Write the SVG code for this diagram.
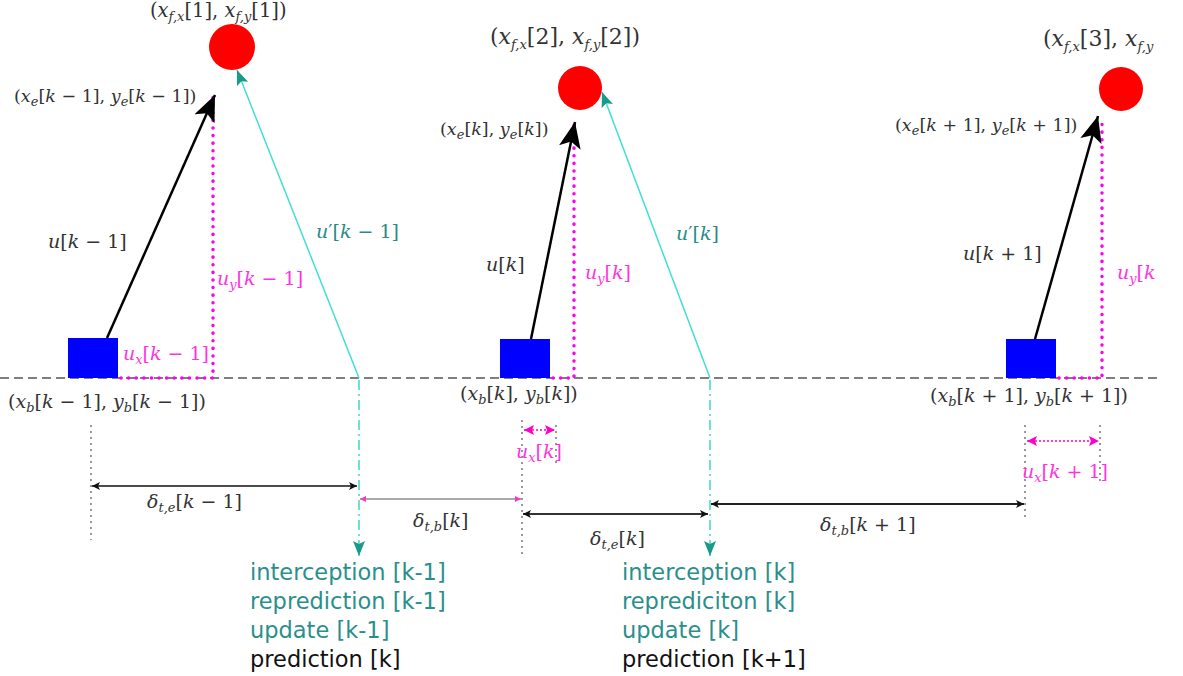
<svg xmlns="http://www.w3.org/2000/svg" width="1183" height="676" viewBox="0 0 1183 676">
<style>
.m{font-family:"DejaVu Serif","Liberation Serif",serif;font-size:19px;fill:#333}
.t{font-size:17.5px}
.h{font-size:22px}
.h1{font-size:19.5px}
.i{font-style:italic}
.s{font-size:13px;font-style:italic}
.mg{fill:#ff33dd}
.tl{fill:#2a8a88}
.b{font-family:"DejaVu Sans","Noto Sans",sans-serif;font-size:22.5px}
.base{stroke:#555;stroke-width:1.5;stroke-dasharray:9,5;fill:none}
.mdot{stroke:#ff00ee;stroke-width:3.5;stroke-dasharray:0.1,7.5;fill:none;stroke-linecap:round}
.gdot{stroke:#555;stroke-width:1.2;stroke-dasharray:2,4;fill:none}
.cy{stroke:#40e0d0;stroke-width:1.5;fill:none}
.cyd{stroke:#40d8c4;stroke-width:1.5;stroke-dasharray:10,4,2,4;fill:none}
</style>
<defs>
<marker id="ab" markerUnits="userSpaceOnUse" markerWidth="30" markerHeight="24" refX="26" refY="11" orient="auto"><path d="M0,0 L26,11 L0,22 L6,11 z" fill="#000"/></marker>
<marker id="at" markerUnits="userSpaceOnUse" markerWidth="18" markerHeight="14" refX="15" refY="6" orient="auto"><path d="M0,0 L15,6 L0,12 L3,6 z" fill="#1a9a8a"/></marker>
<marker id="ak" markerUnits="userSpaceOnUse" markerWidth="10" markerHeight="10" refX="8" refY="4" orient="auto-start-reverse"><path d="M0,0 L8,4 L0,8 L2,4 z" fill="#111"/></marker>
<marker id="am" markerUnits="userSpaceOnUse" markerWidth="12" markerHeight="12" refX="10" refY="5" orient="auto-start-reverse"><path d="M0,0 L10,5 L0,10 L2,5 z" fill="#ff00cc"/></marker>
<marker id="am2" markerUnits="userSpaceOnUse" markerWidth="8" markerHeight="8" refX="6" refY="3" orient="auto-start-reverse"><path d="M0,0 L6,3 L0,6 z" fill="#ff33cc"/></marker>
</defs>

<g id="connectors">
<line class="base" x1="0" y1="378" x2="1160" y2="378"/>
<polyline class="mdot" points="121,378 213,378 213,97"/>
<polyline class="mdot" points="553,378 574,378 574,124"/>
<polyline class="mdot" points="1059,378 1102,378 1102,118"/>
<line x1="107" y1="338" x2="215" y2="95" stroke="#000" stroke-width="2.5" marker-end="url(#ab)"/>
<line x1="531" y1="339" x2="575" y2="122" stroke="#000" stroke-width="2.5" marker-end="url(#ab)"/>
<line x1="1035" y1="339" x2="1098" y2="116" stroke="#000" stroke-width="2.5" marker-end="url(#ab)"/>
<line class="cy" x1="359" y1="378" x2="237" y2="70" marker-end="url(#at)"/>
<line class="cy" x1="710" y1="378" x2="602" y2="92" marker-end="url(#at)"/>
<line class="cyd" x1="359" y1="380" x2="359" y2="556" marker-end="url(#at)"/>
<line class="cyd" x1="710" y1="380" x2="710" y2="556" marker-end="url(#at)"/>
<line class="gdot" x1="91" y1="425" x2="91" y2="540"/>
<line class="gdot" x1="522" y1="420" x2="522" y2="555"/>
<line class="gdot" x1="556" y1="425" x2="556" y2="465"/>
<line class="gdot" x1="1025" y1="425" x2="1025" y2="520"/>
<line class="gdot" x1="1100" y1="425" x2="1100" y2="485"/>
<line x1="92" y1="486" x2="357" y2="486" stroke="#111" stroke-width="1.5" marker-start="url(#ak)" marker-end="url(#ak)"/>
<line x1="360" y1="499" x2="521" y2="499" stroke="#aaa" stroke-width="2" marker-start="url(#am2)" marker-end="url(#am2)"/>
<line x1="523" y1="514" x2="708" y2="514" stroke="#333" stroke-width="1.8" marker-start="url(#ak)" marker-end="url(#ak)"/>
<line x1="711" y1="504" x2="1024" y2="504" stroke="#222" stroke-width="2" marker-start="url(#ak)" marker-end="url(#ak)"/>
<line x1="524" y1="430" x2="555" y2="430" stroke="#ff00cc" stroke-width="1.5" stroke-dasharray="2,2" marker-start="url(#am)" marker-end="url(#am)"/>
<line x1="1027" y1="441" x2="1099" y2="441" stroke="#ff00cc" stroke-width="1.5" stroke-dasharray="2,2" marker-start="url(#am)" marker-end="url(#am)"/>
</g>

<g id="box1"><rect x="68" y="338" width="50" height="40" fill="#0000ff"/></g>
<g id="box2"><rect x="500" y="339" width="50" height="39" fill="#0000ff"/></g>
<g id="box3"><rect x="1006" y="339" width="50" height="39" fill="#0000ff"/></g>
<g id="target1"><circle cx="232" cy="47" r="23" fill="#ff0000"/></g>
<g id="target2"><circle cx="580" cy="88" r="22" fill="#ff0000"/></g>
<g id="target3"><circle cx="1121" cy="89" r="22" fill="#ff0000"/></g>

<g id="labels">
<text class="m h1" x="150" y="17">(<tspan class="i">x</tspan><tspan class="s" dy="4">f,x</tspan><tspan dy="-4">[1], </tspan><tspan class="i">x</tspan><tspan class="s" dy="4">f,y</tspan><tspan dy="-4">[1])</tspan></text>
<text class="m h" x="490" y="44">(<tspan class="i">x</tspan><tspan class="s" dy="5">f,x</tspan><tspan dy="-5">[2], </tspan><tspan class="i">x</tspan><tspan class="s" dy="5">f,y</tspan><tspan dy="-5">[2])</tspan></text>
<text class="m h" x="1043" y="46">(<tspan class="i">x</tspan><tspan class="s" dy="5">f,x</tspan><tspan dy="-5">[3], </tspan><tspan class="i">x</tspan><tspan class="s" dy="5">f,y</tspan></text>

<text class="m t" x="14" y="102">(<tspan class="i">x</tspan><tspan class="s" dy="4">e</tspan><tspan dy="-4">[</tspan><tspan class="i">k</tspan> − 1], <tspan class="i">y</tspan><tspan class="s" dy="4">e</tspan><tspan dy="-4">[</tspan><tspan class="i">k</tspan> − 1])</text>
<text class="m t" x="440" y="135">(<tspan class="i">x</tspan><tspan class="s" dy="4">e</tspan><tspan dy="-4">[</tspan><tspan class="i">k</tspan>], <tspan class="i">y</tspan><tspan class="s" dy="4">e</tspan><tspan dy="-4">[</tspan><tspan class="i">k</tspan>])</text>
<text class="m t" x="895" y="131">(<tspan class="i">x</tspan><tspan class="s" dy="4">e</tspan><tspan dy="-4">[</tspan><tspan class="i">k</tspan> + 1], <tspan class="i">y</tspan><tspan class="s" dy="4">e</tspan><tspan dy="-4">[</tspan><tspan class="i">k</tspan> + 1])</text>

<text class="m" x="48" y="248"><tspan class="i">u</tspan>[<tspan class="i">k</tspan> − 1]</text>
<text class="m tl" x="316" y="238" font-size="20"><tspan class="i">u</tspan>′[<tspan class="i">k</tspan> − 1]</text>
<text class="m mg" x="217" y="285"><tspan class="i">u</tspan><tspan class="s" dy="4">y</tspan><tspan dy="-4">[</tspan><tspan class="i">k</tspan> − 1]</text>
<text class="m mg" x="123" y="360"><tspan class="i">u</tspan><tspan class="s" dy="4">x</tspan><tspan dy="-4">[</tspan><tspan class="i">k</tspan> − 1]</text>
<text class="m" x="8" y="408">(<tspan class="i">x</tspan><tspan class="s" dy="4">b</tspan><tspan dy="-4">[</tspan><tspan class="i">k</tspan> − 1], <tspan class="i">y</tspan><tspan class="s" dy="4">b</tspan><tspan dy="-4">[</tspan><tspan class="i">k</tspan> − 1])</text>

<text class="m" x="486" y="271"><tspan class="i">u</tspan>[<tspan class="i">k</tspan>]</text>
<text class="m mg" x="585" y="279"><tspan class="i">u</tspan><tspan class="s" dy="4">y</tspan><tspan dy="-4">[</tspan><tspan class="i">k</tspan>]</text>
<text class="m tl" x="676" y="240" font-size="20"><tspan class="i">u</tspan>′[<tspan class="i">k</tspan>]</text>
<text class="m" x="460" y="400">(<tspan class="i">x</tspan><tspan class="s" dy="4">b</tspan><tspan dy="-4">[</tspan><tspan class="i">k</tspan>], <tspan class="i">y</tspan><tspan class="s" dy="4">b</tspan><tspan dy="-4">[</tspan><tspan class="i">k</tspan>])</text>

<text class="m" x="963" y="260"><tspan class="i">u</tspan>[<tspan class="i">k</tspan> + 1]</text>
<text class="m mg" x="1117" y="279"><tspan class="i">u</tspan><tspan class="s" dy="4">y</tspan><tspan dy="-4">[</tspan><tspan class="i">k</tspan></text>
<text class="m" x="930" y="402">(<tspan class="i">x</tspan><tspan class="s" dy="4">b</tspan><tspan dy="-4">[</tspan><tspan class="i">k</tspan> + 1], <tspan class="i">y</tspan><tspan class="s" dy="4">b</tspan><tspan dy="-4">[</tspan><tspan class="i">k</tspan> + 1])</text>

<text class="m mg" x="516" y="458"><tspan class="i">u</tspan><tspan class="s" dy="4">x</tspan><tspan dy="-4">[</tspan><tspan class="i">k</tspan>]</text>
<text class="m mg" x="1022" y="478"><tspan class="i">u</tspan><tspan class="s" dy="4">x</tspan><tspan dy="-4">[</tspan><tspan class="i">k</tspan> + 1]</text>

<text class="m" x="147" y="508"><tspan class="i">δ</tspan><tspan class="s" dy="4">t,e</tspan><tspan dy="-4">[</tspan><tspan class="i">k</tspan> − 1]</text>
<text class="m" x="413" y="527"><tspan class="i">δ</tspan><tspan class="s" dy="4">t,b</tspan><tspan dy="-4">[</tspan><tspan class="i">k</tspan>]</text>
<text class="m" x="590" y="545"><tspan class="i">δ</tspan><tspan class="s" dy="4">t,e</tspan><tspan dy="-4">[</tspan><tspan class="i">k</tspan>]</text>
<text class="m" x="820" y="531"><tspan class="i">δ</tspan><tspan class="s" dy="4">t,b</tspan><tspan dy="-4">[</tspan><tspan class="i">k</tspan> + 1]</text>
</g>

<g id="notes1" class="b">
<text x="250" y="580" fill="#2a8f8c">interception [k-1]</text>
<text x="250" y="609" fill="#2a8f8c">reprediction [k-1]</text>
<text x="250" y="638" fill="#2a8f8c">update [k-1]</text>
<text x="250" y="667" fill="#111">prediction [k]</text>
</g>
<g id="notes2" class="b">
<text x="622" y="580" fill="#2a8f8c">interception [k]</text>
<text x="622" y="609" fill="#2a8f8c">reprediciton [k]</text>
<text x="622" y="638" fill="#2a8f8c">update [k]</text>
<text x="622" y="667" fill="#111">prediction [k+1]</text>
</g>
</svg>
